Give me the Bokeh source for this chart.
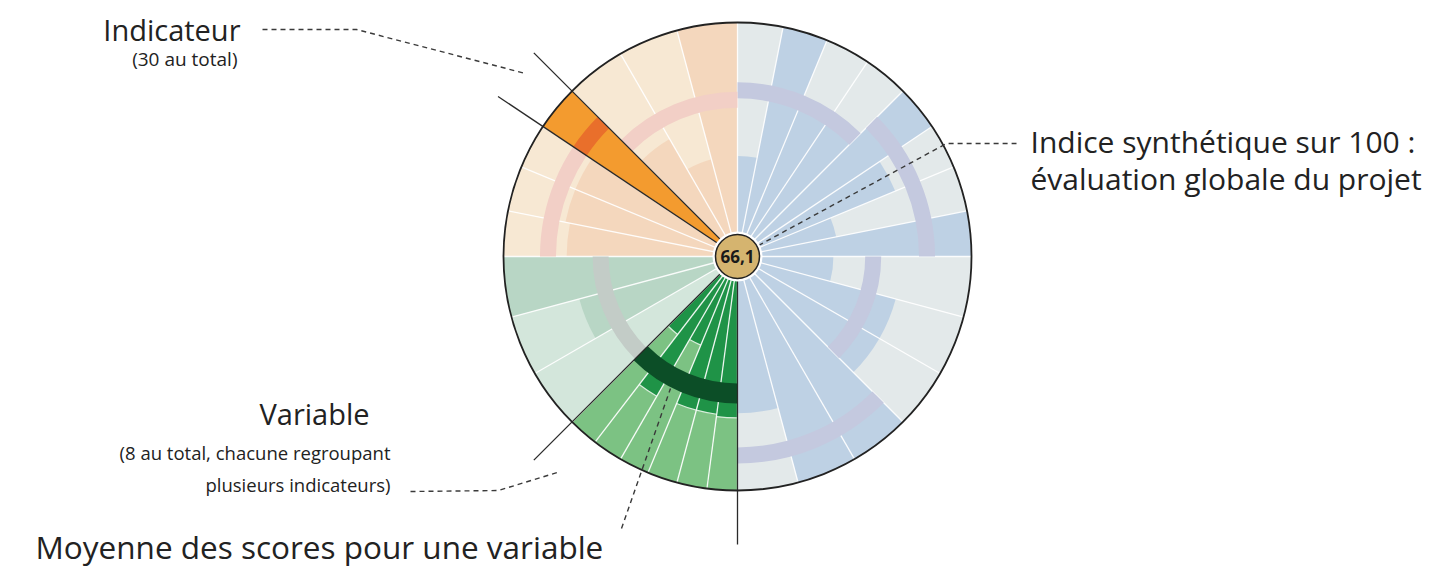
import numpy as np
from bokeh.plotting import figure
from bokeh.models import Range1d
from bokeh.embed import file_html
from bokeh.resources import INLINE
from bokeh.core.properties import value

# ---------------- data ----------------
# 8 variables, each covering 45 degrees, listed counter-clockwise from 0 deg (east)
var_start_deg = [0, 45, 90, 135, 180, 225, 270, 315]
var_family = ["blue", "blue", "orange", "orange", "green", "greenhl", "blue", "blue"]
# indicator scores (0-100) per variable, counter-clockwise order
scores_v1 = [100, 43, 73, 100]
scores_v2 = [70, 70, 100, 43]
scores_v3 = [100, 43, 58]
scores_v4 = [100, 75, 75, 73]
scores_v5 = [100, 70, 6]
scores_v6 = [42, 69, 41, 68, 68, 69]
scores_v7 = [67, 100, 100]
scores_v8 = [70, 70, 41]
var_scores = [scores_v1, scores_v2, scores_v3, scores_v4,
              scores_v5, scores_v6, scores_v7, scores_v8]
# mean score per variable
var_means = [81, 71, 67, 81, 58.5, 58.5, 85, 58]
highlight_var = 3        # variable holding the highlighted indicator
highlight_ind = 0        # its index inside that variable
highlight_variable = 5   # highlighted variable
global_index = "66,1"

# ---------------- styles ----------------
bg_col = {"blue": "#e3e9ea", "orange": "#f7e8d3", "green": "#d3e6db", "greenhl": "#7cc283"}
bar_col = {"blue": "#bed1e4", "orange": "#f4d7bd", "green": "#b8d6c5", "greenhl": "#1f9347"}
band_col = {"blue": "#c4c9df", "orange": "#f2cfc6", "green": "#c3ccc7", "greenhl": "#0c4e27"}
hl_col = "#f39b2f"
hl_band_col = "#e96f2b"

W, H = 1434, 569
CX, CY = 737, H - 256
R = 234.0
RC = 22.0
EXT = 288.0


def rad(s):
    return s / 100.0 * R


def iy(y):
    return H - y


p = figure(width=W, height=H, x_range=Range1d(0, W), y_range=Range1d(0, H),
           output_backend="svg", toolbar_location=None, min_border=0,
           outline_line_color=None, background_fill_color="white")
p.axis.visible = False
p.grid.visible = False

# build wedges
bg_s, bg_e, bg_c = [], [], []
bar_s, bar_e, bar_r, bar_c = [], [], [], []
sep_angles = []
for vi, (a0, sc) in enumerate(zip(var_start_deg, var_scores)):
    n = len(sc)
    step = 45.0 / n
    fam = var_family[vi]
    for k, s in enumerate(sc):
        st = np.radians(a0 + k * step)
        en = np.radians(a0 + (k + 1) * step)
        bg_s.append(st); bg_e.append(en); bg_c.append(bg_col[fam])
        bar_s.append(st); bar_e.append(en); bar_r.append(rad(s)); bar_c.append(bar_col[fam])
        sep_angles.append(st)

n_w = len(bg_s)
p.annular_wedge(x=[CX] * n_w, y=[CY] * n_w, inner_radius=0, outer_radius=R,
                start_angle=bg_s, end_angle=bg_e, fill_color=bg_c, line_color=None)
p.annular_wedge(x=[CX] * n_w, y=[CY] * n_w, inner_radius=0, outer_radius=bar_r,
                start_angle=bar_s, end_angle=bar_e, fill_color=bar_c, line_color=None)

# light arcs at bar ends for highlighted variable
hv = highlight_variable
stp = 45.0 / len(var_scores[hv])
for k, s in enumerate(var_scores[hv]):
    p.arc(x=CX, y=CY, radius=rad(s), start_angle=np.radians(var_start_deg[hv] + k * stp),
          end_angle=np.radians(var_start_deg[hv] + (k + 1) * stp), line_color="#d8eedb", line_width=1.2)

# white separators
sep_angles = np.array(sep_angles)
p.segment(x0=[CX] * len(sep_angles), y0=[CY] * len(sep_angles),
          x1=CX + R * np.cos(sep_angles), y1=CY + R * np.sin(sep_angles),
          line_color="white", line_width=1.3, line_alpha=0.9)

# mean bands
for vi, m in enumerate(var_means):
    fam = var_family[vi]
    hw = 10 if fam == "greenhl" else 8
    p.annular_wedge(x=CX, y=CY, inner_radius=rad(m) - hw, outer_radius=rad(m) + hw,
                    start_angle=np.radians(var_start_deg[vi]), end_angle=np.radians(var_start_deg[vi] + 45),
                    fill_color=band_col[fam], line_color=None)

# highlighted indicator
hstep = 45.0 / len(var_scores[highlight_var])
h0 = var_start_deg[highlight_var] + highlight_ind * hstep
h1 = h0 + hstep
hs = var_scores[highlight_var][highlight_ind]
p.annular_wedge(x=CX, y=CY, inner_radius=0, outer_radius=rad(hs),
                start_angle=np.radians(h0), end_angle=np.radians(h1), fill_color=hl_col, line_color=None)
hm = var_means[highlight_var]
p.annular_wedge(x=CX, y=CY, inner_radius=rad(hm) - 8, outer_radius=rad(hm) + 8,
                start_angle=np.radians(h0), end_angle=np.radians(h1), fill_color=hl_band_col, line_color=None)

# black lines: highlighted indicator edges and highlighted variable edges
line_angles = np.radians([h0, h1, var_start_deg[hv], var_start_deg[hv] + 45])
p.segment(x0=[CX] * 4, y0=[CY] * 4, x1=CX + EXT * np.cos(line_angles), y1=CY + EXT * np.sin(line_angles),
          line_color="#2a2a2a", line_width=1.3)

# outer circle
p.circle(x=[CX], y=[CY], radius=R, fill_color=None, line_color="#222222", line_width=1.8)

# dashed annotation leaders (image pixel coords)
dash_kw = dict(line_color="#3a3a3a", line_width=1.4, line_dash="5 4")
p.line(x=[262, 356, 525], y=[iy(29), iy(29), iy(73)], **dash_kw)
p.line(x=[758, 946, 1016], y=[iy(245), iy(143), iy(143)], **dash_kw)
p.line(x=[410, 498, 560], y=[iy(491), iy(490), iy(471)], **dash_kw)
p.line(x=[621, 670], y=[iy(528), iy(388)], **dash_kw)

# centre circle
p.circle(x=[CX], y=[CY], radius=RC + 3, fill_color="white", line_color=None)
p.circle(x=[CX], y=[CY], radius=RC, fill_color="#d5b46f", line_color="#222222", line_width=1.5)
p.text(x=[CX], y=[CY], text=[global_index], text_align="center", text_baseline="middle",
       text_font=value("Open Sans"), text_font_style="bold", text_font_size=value("17px"),
       text_color="#1a1a1a")

# labels
font = value("Open Sans")
tc = "#222222"
p.text(x=[240], y=[iy(29)], text=["Indicateur"], text_align="right", text_baseline="alphabetic",
       text_font=font, text_font_size=value("29px"), text_color=tc)
p.text(x=[237], y=[iy(58)], text=["(30 au total)"], text_align="right", text_baseline="alphabetic",
       text_font=font, text_font_size=value("19px"), text_color=tc)
p.text(x=[1030, 1030], y=[iy(141), iy(178)], text=["Indice synthétique sur 100 :", "évaluation globale du projet"],
       text_align="left", text_baseline="alphabetic", text_font=font, text_font_size=value("30px"), text_color=tc)
p.text(x=[314], y=[iy(413)], text=["Variable"], text_align="center", text_baseline="alphabetic",
       text_font=font, text_font_size=value("29px"), text_color=tc)
p.text(x=[390, 390], y=[iy(452), iy(484)], text=["(8 au total, chacune regroupant", "plusieurs indicateurs)"],
       text_align="right", text_baseline="alphabetic", text_font=font, text_font_size=value("18.5px"), text_color=tc)
p.text(x=[35], y=[iy(546)], text=["Moyenne des scores pour une variable"], text_align="left",
       text_baseline="alphabetic", text_font=font, text_font_size=value("31.5px"), text_color=tc)

open("out.html", "w").write(file_html(p, INLINE))
